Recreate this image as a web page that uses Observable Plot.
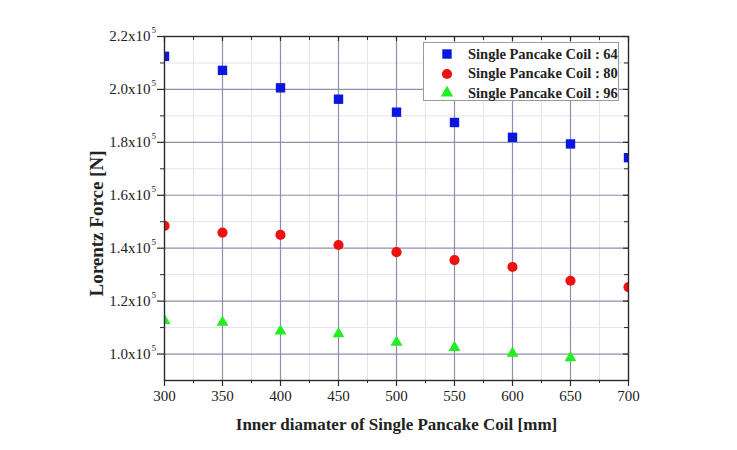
<!DOCTYPE html>
<html>
<head>
<meta charset="utf-8">
<script src="https://cdn.jsdelivr.net/npm/d3@7"></script>
<script src="https://cdn.jsdelivr.net/npm/@observablehq/plot@0.6"></script>
<style>
  html, body { margin: 0; padding: 0; background: #fff; }
  #wrap { position: relative; width: 737px; height: 450px; }
  #legend { position: absolute; left: 423px; top: 42px; width: 196px; height: 59px;
            border: 1px solid #9a9a9a; background: #fff; box-sizing: border-box; }
  .row { position: absolute; left: 0; height: 18px; display: flex; align-items: center; }
  .row svg { position: absolute; left: 14px; }
  .row span { position: absolute; left: 44px; white-space: nowrap; font-family: "Liberation Serif", serif;
              font-weight: bold; font-size: 14.5px; color: #222; }
</style>
</head>
<body>
<div id="wrap"></div>
<script>
// ---- data ----
const diameters = [300, 350, 400, 450, 500, 550, 600, 650, 700];
const coil64 = [212500, 207200, 200600, 196300, 191400, 187500, 181900, 179400, 174200];
const coil80 = [148400, 145900, 145000, 141200, 138500, 135500, 132900, 127700, 125300];
const coil96 = [112600, 112000, 108700, 107600, 104400, 102400, 100300, 98600];
const seriesNames = ["Single Pancake Coil : 64", "Single Pancake Coil : 80", "Single Pancake Coil : 96"];
const seriesColors = ["#0b17e0", "#ee1111", "#22ee22"];
const seriesSymbols = ["square", "circle", "triangle"];
const xTicks = [300, 350, 400, 450, 500, 550, 600, 650, 700];
const xMinor = [325, 375, 425, 475, 525, 575, 625, 675];
const yTicks = [100000, 120000, 140000, 160000, 180000, 200000, 220000];
const yMinor = [110000, 130000, 150000, 170000, 190000, 210000];
const xTitle = "Inner diamater of Single Pancake Coil [mm]";
const yTitle = "Lorentz Force [N]";

const rows = (vals) => vals.map((v, i) => ({x: diameters[i], y: v}));
const s64 = rows(coil64), s80 = rows(coil80), s96 = rows(coil96);

const W = 737, H = 450, mL = 164, mR = 109, mT = 36, mB = 70;
const iW = W - mL - mR, iH = H - mT - mB;
const axisColor = "#2a2a2a";
const serif = "Liberation Serif";

const chart = Plot.plot({
  width: W, height: H,
  marginLeft: mL, marginRight: mR, marginTop: mT, marginBottom: mB,
  x: {domain: [300, 700]},
  y: {domain: [90000, 220000]},
  style: {fontFamily: serif, fontSize: "15px", color: "#222", background: "#fff", overflow: "visible"},
  marks: [
    Plot.gridX(xMinor, {stroke: "#e3e3ec", strokeOpacity: 1}),
    Plot.gridY(yMinor, {stroke: "#e3e3ec", strokeOpacity: 1}),
    Plot.gridX(xTicks.slice(1, -1), {stroke: "#8e8eae", strokeOpacity: 1, strokeWidth: 1.2}),
    Plot.gridY(yTicks, {stroke: "#8e8eae", strokeOpacity: 1, strokeWidth: 1.2}),
    Plot.dot(s64, {x: "x", y: "y", symbol: () => "square", r: 5.3, fill: seriesColors[0], stroke: "none", clip: true}),
    Plot.dot(s80, {x: "x", y: "y", symbol: () => "circle", r: 5.1, fill: seriesColors[1], stroke: "none", clip: true}),
    Plot.dot(s96, {x: "x", y: "y", symbol: () => "triangle", r: 4.4, fill: seriesColors[2], stroke: "none", clip: true}),
    Plot.frame({stroke: axisColor, strokeWidth: 1.4}),
    // bottom axis
    Plot.axisX(xTicks, {tickSize: 6, tickPadding: 4, fontSize: 15, label: null, stroke: axisColor, strokeWidth: 1.2}),
    Plot.axisX(xMinor, {tickSize: 3, tickFormat: () => "", label: null, stroke: axisColor}),
    // top inward ticks
    Plot.tickX(xTicks, {x: d => d, insetBottom: iH - 5, stroke: axisColor, strokeWidth: 1.2}),
    Plot.tickX(xMinor, {x: d => d, insetBottom: iH - 4, stroke: axisColor}),
    // right inward ticks
    Plot.tickY(yTicks, {y: d => d, insetLeft: iW - 5, stroke: axisColor, strokeWidth: 1.2}),
    Plot.tickY(yMinor, {y: d => d, insetLeft: iW - 4, stroke: axisColor}),
    // left axis
    Plot.axisY(yTicks, {tickSize: 7, tickPadding: 7, fontSize: 15, label: null, stroke: axisColor, strokeWidth: 1.2,
      tickFormat: d => (d / 1e5).toFixed(1) + "x10"}),
    Plot.axisY(yMinor, {tickSize: 4, tickFormat: () => "", label: null, stroke: axisColor}),
    Plot.text(yTicks, {y: d => d, text: () => "5", frameAnchor: "left", dx: -13, dy: -6, textAnchor: "start", lineAnchor: "middle", fontSize: 9}),
    // titles
    Plot.text([xTitle], {text: d => d, frameAnchor: "bottom", dy: 44, textAnchor: "middle", lineAnchor: "middle", fontWeight: "bold", fontSize: 17}),
    Plot.text([yTitle], {text: d => d, frameAnchor: "left", dx: -68, dy: 15, rotate: -90, textAnchor: "middle", lineAnchor: "middle", fontWeight: "bold", fontSize: 19})
  ]
});

const wrap = document.getElementById("wrap");
wrap.appendChild(chart);

// legend
const legend = document.createElement("div");
legend.id = "legend";
const rowTops = [11, 30.5, 50];
seriesNames.forEach((name, i) => {
  const row = document.createElement("div");
  row.className = "row";
  row.style.top = (rowTops[i] - 9) + "px";
  const sizes = [5.3, 5.1, 4.6];
  const sym = {square: d3.symbolSquare, circle: d3.symbolCircle, triangle: d3.symbolTriangle}[seriesSymbols[i]];
  const path = d3.symbol(sym, Math.PI * sizes[i] * sizes[i])();
  row.innerHTML = `<svg width="18" height="18" viewBox="-9 -9 18 18"><path d="${path}" fill="${seriesColors[i]}"/></svg><span>${name}</span>`;
  legend.appendChild(row);
});
wrap.appendChild(legend);
</script>
</body>
</html>
